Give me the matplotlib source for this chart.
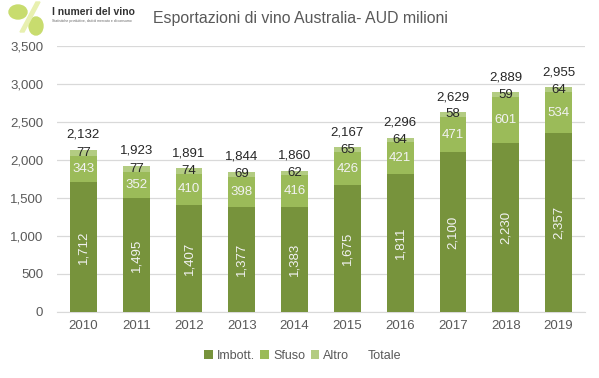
import matplotlib
matplotlib.use("Agg")
import matplotlib.pyplot as plt
from matplotlib.patches import Ellipse, Polygon
import numpy as np

years = ["2010", "2011", "2012", "2013", "2014", "2015", "2016", "2017", "2018", "2019"]
imbott = [1712, 1495, 1407, 1377, 1383, 1675, 1811, 2100, 2230, 2357]
sfuso = [343, 352, 410, 398, 416, 426, 421, 471, 601, 534]
altro = [77, 77, 74, 69, 62, 65, 64, 58, 59, 64]
totale = [2132, 1923, 1891, 1844, 1860, 2167, 2296, 2629, 2889, 2955]

c_imb = "#77933C"
c_sfu = "#9BBB59"
c_alt = "#B3CC82"

plt.rcParams['font.family'] = ['Liberation Sans', 'DejaVu Sans']

fig = plt.figure(figsize=(5.99, 3.78), dpi=100)
ax = fig.add_axes([57/599, 1-312/378, (585-57)/599, (312-46)/378])

x = np.arange(len(years))
w = 0.51
imb = np.array(imbott); sf = np.array(sfuso); al = np.array(altro)
ax.bar(x, imb, w, color=c_imb, label="Imbott.", zorder=3)
ax.bar(x, sf, w, bottom=imb, color=c_sfu, label="Sfuso", zorder=3)
ax.bar(x, al, w, bottom=imb+sf, color=c_alt, label="Altro", zorder=3)
ax.bar(x, np.zeros(len(x)), w, bottom=imb+sf+al, color="none", label="Totale", zorder=3)

for i in range(len(x)):
    ax.text(x[i], imb[i]/2, f"{imbott[i]:,}", rotation=90, ha="center", va="center",
            color="#F2F2F2", fontsize=9.5, zorder=4)
    ax.text(x[i], imb[i]+sf[i]/2, f"{sfuso[i]:,}", ha="center", va="center",
            color="#F2F2F2", fontsize=9.5, zorder=4)
    ax.text(x[i], imb[i]+sf[i]+al[i]/2, f"{altro[i]:,}", ha="center", va="center",
            color="#262626", fontsize=9.5, zorder=4)
    ax.text(x[i], totale[i]+120, f"{totale[i]:,}", ha="center", va="bottom",
            color="#262626", fontsize=9.5, zorder=4)

ax.set_xlim(-0.5, len(x)-0.5)
ax.set_ylim(0, 3500)
ax.set_yticks(range(0, 3501, 500))
ax.set_yticklabels([f"{v:,}" for v in range(0, 3501, 500)])
ax.set_xticks(x)
ax.set_xticklabels(years)
ax.tick_params(axis="both", length=0, colors="#595959", labelsize=9.5)
ax.tick_params(axis="y", pad=10)
ax.tick_params(axis="x", pad=6)
ax.grid(axis="y", color="#D9D9D9", linewidth=0.9, zorder=0)
for s in ["top", "right", "left"]:
    ax.spines[s].set_visible(False)
ax.spines["bottom"].set_color("#D9D9D9")

fig.text(0.502, 1-18/378, "Esportazioni di vino Australia- AUD milioni", ha="center", va="center",
         fontsize=11.4, color="#595959")

leg = fig.legend(loc="center", bbox_to_anchor=(0.505, 1-356/378), ncol=4, frameon=False,
                 fontsize=9, handlelength=0.7, handleheight=0.7, handletextpad=0.3,
                 columnspacing=0.45, labelcolor="#595959")

# logo
fig.patches.append(Ellipse((18/599, 1-12/378), 18/599, 14/378, transform=fig.transFigure,
                           color="#C8DC6E", figure=fig))
fig.patches.append(Ellipse((36/599, 1-26/378), 14/599, 18/378, transform=fig.transFigure,
                           color="#C8DC6E", figure=fig))
fig.patches.append(Polygon([(20/599, 1-32/378), (24/599, 1-32/378), (40/599, 1-2/378), (36/599, 1-2/378)],
                           closed=True, transform=fig.transFigure, color="#E8F0B0", figure=fig))
fig.text(52/599, 1-12/378, "I numeri del vino", fontsize=7.5, fontweight="bold", color="#333333",
         ha="left", va="center")
fig.text(52/599, 1-21/378, "Statistiche produttive, dati di mercato e di consumo", fontsize=2.5,
         color="#666666", ha="left", va="center")

fig.savefig("out.png", dpi=100)
